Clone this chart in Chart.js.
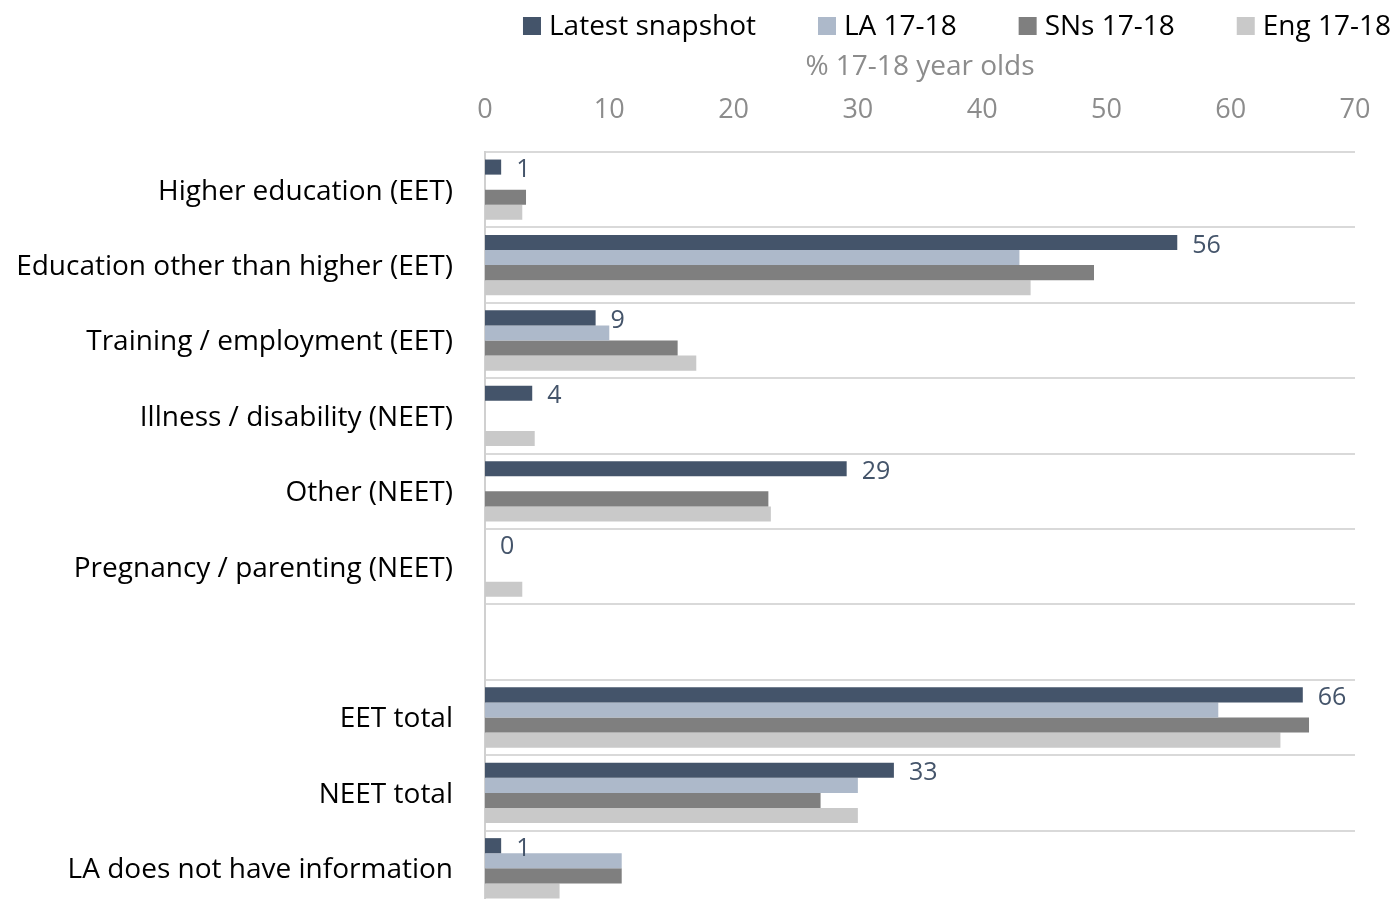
<!DOCTYPE html>
<html>
<head>
<meta charset="utf-8">
<script src="https://cdn.jsdelivr.net/npm/chart.js@4.4.1/dist/chart.umd.min.js"></script>
<style>
  html, body { margin: 0; padding: 0; background: #ffffff; overflow: hidden; }
  #wrap { width: 1395px; height: 912px; }
</style>
</head>
<body>
<div id="wrap"><canvas id="c" width="1395" height="912"></canvas></div>
<script>
const categories = [
  'Higher education (EET)',
  'Education other than higher (EET)',
  'Training / employment (EET)',
  'Illness / disability (NEET)',
  'Other (NEET)',
  'Pregnancy / parenting (NEET)',
  '',
  'EET total',
  'NEET total',
  'LA does not have information'
];
const seriesNames = ['Latest snapshot', 'LA 17-18', 'SNs 17-18', 'Eng 17-18'];
const latestSnapshot = [1.3, 55.7, 8.9, 3.8, 29.1, 0, null, 65.8, 32.9, 1.3];
const la1718         = [null, 43.0, 10.0, null, null, null, null, 59.0, 30.0, 11.0];
const sns1718        = [3.3, 49.0, 15.5, null, 22.8, null, null, 66.3, 27.0, 11.0];
const eng1718        = [3.0, 43.9, 17.0, 4.0, 23.0, 3.0, null, 64.0, 30.0, 6.0];
const xTickValues    = [0, 10, 20, 30, 40, 50, 60, 70];
const axisTitle      = '% 17-18 year olds';

const colors = ['#44546A', '#ADB9CA', '#7F7F7F', '#C9C9C9'];
const FONT = '"Open Sans", "Noto Sans", sans-serif';

const valueLabels = {
  id: 'valueLabels',
  afterDatasetsDraw(chart) {
    const meta = chart.getDatasetMeta(0);
    const ds = chart.data.datasets[0];
    const ctx = chart.ctx;
    ctx.save();
    ctx.font = '25px ' + FONT;
    ctx.fillStyle = '#44546A';
    ctx.textAlign = 'left';
    ctx.textBaseline = 'middle';
    meta.data.forEach((el, i) => {
      const v = ds.data[i];
      if (v === null || v === undefined) return;
      ctx.fillText(String(Math.round(v)), el.x + 15, el.y + 3);
    });
    ctx.restore();
  }
};

const topLegend = {
  id: 'topLegend',
  afterDraw(chart) {
    const ctx = chart.ctx;
    ctx.save();
    ctx.font = '28px ' + FONT;
    ctx.textBaseline = 'middle';
    ctx.textAlign = 'left';
    const box = 18, gapText = 8, gapItem = 62, yc = 26;
    const items = chart.data.datasets.map(d => ({text: d.label, color: d.backgroundColor, w: ctx.measureText(d.label).width}));
    let total = 0;
    items.forEach((it, i) => { total += box + gapText + it.w + (i < items.length - 1 ? gapItem : 0); });
    let x = 1391 - total;
    items.forEach(it => {
      ctx.fillStyle = it.color;
      ctx.fillRect(x, yc - box / 2, box, box);
      ctx.fillStyle = '#000000';
      ctx.fillText(it.text, x + box + gapText, yc + 1);
      x += box + gapText + it.w + gapItem;
    });
    ctx.restore();
  }
};

const seriesData = [latestSnapshot, la1718, sns1718, eng1718];

new Chart(document.getElementById('c'), {
  type: 'bar',
  data: {
    labels: categories,
    datasets: seriesNames.map((name, i) => ({
      label: name,
      data: seriesData[i],
      backgroundColor: colors[i],
      borderWidth: 0,
      categoryPercentage: 0.8,
      barPercentage: 1.0
    }))
  },
  options: {
    indexAxis: 'y',
    responsive: false,
    animation: false,
    devicePixelRatio: 1,
    layout: { padding: { top: 40, right: 40, left: 0, bottom: 6 } },
    plugins: {
      legend: { display: false },
      tooltip: { enabled: false }
    },
    scales: {
      x: {
        position: 'top',
        min: 0,
        max: 70,
        afterBuildTicks(scale) { scale.ticks = xTickValues.map(v => ({ value: v })); },
        afterFit(scale) { scale.height = 112; scale.paddingLeft = 0; scale.paddingRight = 0; },
        ticks: {
          color: '#8C8C8C',
          font: { family: FONT, size: 27 },
          padding: 25,
          maxRotation: 0
        },
        grid: { display: false, drawTicks: false },
        border: { display: false },
        title: {
          display: true,
          text: axisTitle,
          color: '#8C8C8C',
          font: { family: FONT, size: 28 },
          padding: { top: 10, bottom: 0 }
        }
      },
      y: {
        afterFit(scale) { scale.width = 485; scale.paddingTop = 0; scale.paddingBottom = 0; },
        ticks: {
          color: '#000000',
          font: { family: FONT, size: 28 },
          padding: 32,
          labelOffset: 2
        },
        grid: { color: '#D9D9D9', lineWidth: 2, drawTicks: false },
        border: { display: true, color: '#D0D0D0', width: 2 }
      }
    }
  },
  plugins: [valueLabels, topLegend]
});
</script>
</body>
</html>
